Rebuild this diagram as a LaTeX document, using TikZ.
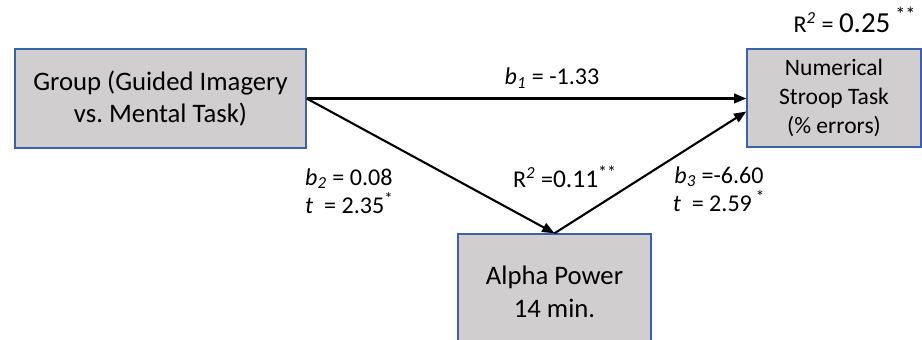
\documentclass[tikz,border=0pt]{standalone}
\usepackage{fontspec}
\setmainfont{Carlito}
\usepackage{tikz}
\usetikzlibrary{arrows.meta}
\definecolor{boxfill}{HTML}{D0CECE}
\definecolor{boxline}{HTML}{3A62A8}
\tikzset{
  varbox/.style={draw=boxline,line width=0.8pt,fill=boxfill,align=center,inner sep=0pt},
  path/.style={-{Triangle[length=7pt,width=5.5pt]},line width=1.2pt,black},
  coef/.style={font=\fontsize{13.7}{16}\selectfont}
}
\newcommand{\bsub}[1]{\textit{b}\textsubscript{\textit{#1}}}
\begin{document}
\begin{tikzpicture}[x=0.02cm,y=0.02cm]
  \useasboundingbox (0,0) rectangle (922,340);
  \clip (0,0) rectangle (922,340);
  % boxes
  \node[varbox,minimum width=5.82cm,minimum height=1.98cm,font=\fontsize{15.2}{18.5}\selectfont]
    (group) at (160.5,241.5) {Group (Guided Imagery\\vs.\ Mental Task)};
  \node[varbox,minimum width=3.48cm,minimum height=1.96cm,font=\fontsize{13.4}{16.5}\selectfont]
    (stroop) at (834,242) {Numerical\\Stroop Task\\(\% errors)};
  \node[varbox,minimum width=3.86cm,minimum height=2.32cm,font=\fontsize{15.2}{18.5}\selectfont]
    (alpha) at (554.5,48) {Alpha Power\\14 min.};
  \coordinate (stroopin) at ([yshift=-0.27cm]stroop.west);
  % paths
  \draw[path] (group.east) -- (group.east -| stroop.west);
  \draw[path] (group.east) -- (alpha.north);
  \draw[path] (alpha.north) -- (stroopin);
  % labels
  \node[coef] at (552,262) {\bsub{1} = -1.33};
  \node[coef,anchor=west,align=left] at (299,149)
    {\bsub{2} = 0.08\\\textit{t}\ \ = 2.35\textsuperscript{*}};
  \node[coef] at (565,163)
    {R\textsuperscript{\textit{2}} =\fontsize{14.5}{16}\selectfont 0.11\textsuperscript{**}};
  \node[coef,align=center] at (719,151)
    {\bsub{3} =-6.60\\\textit{t}\ \ = 2.59\,\textsuperscript{*}};
  \node[coef] at (855,320)
    {R\textsuperscript{\textit{2}} = \fontsize{16.5}{18}\selectfont 0.25\,\textsuperscript{**}};
\end{tikzpicture}
\end{document}
